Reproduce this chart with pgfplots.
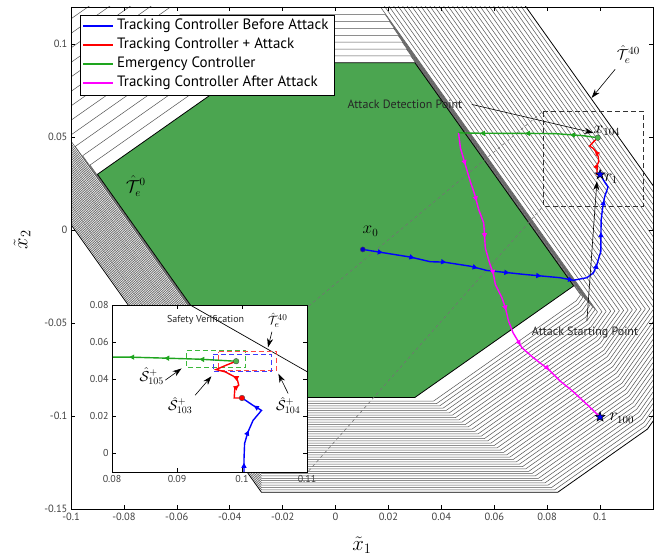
\documentclass[border=0pt]{standalone}
\usepackage{fontspec}
\setmainfont{PT Sans}
\usepackage{pgfplots}
\pgfplotsset{compat=1.18}
\usepackage{pgfplotstable}
\usetikzlibrary{arrows.meta,decorations.markings}

\definecolor{setgreen}{RGB}{75,165,80}
\definecolor{trgreen}{RGB}{30,165,30}
\definecolor{trblue}{RGB}{0,0,255}
\definecolor{trred}{RGB}{255,0,0}
\definecolor{trmag}{RGB}{255,0,255}
\definecolor{dgreen}{RGB}{60,185,60}
\definecolor{dred}{RGB}{255,70,70}
\definecolor{dblue}{RGB}{60,60,255}

% filled five point star
\pgfdeclareplotmark{fstar}{%
  \pgfpathmoveto{\pgfpointpolar{90}{\pgfplotmarksize}}%
  \pgfpathlineto{\pgfpointpolar{126}{0.4\pgfplotmarksize}}%
  \pgfpathlineto{\pgfpointpolar{162}{\pgfplotmarksize}}%
  \pgfpathlineto{\pgfpointpolar{198}{0.4\pgfplotmarksize}}%
  \pgfpathlineto{\pgfpointpolar{234}{\pgfplotmarksize}}%
  \pgfpathlineto{\pgfpointpolar{270}{0.4\pgfplotmarksize}}%
  \pgfpathlineto{\pgfpointpolar{306}{\pgfplotmarksize}}%
  \pgfpathlineto{\pgfpointpolar{342}{0.4\pgfplotmarksize}}%
  \pgfpathlineto{\pgfpointpolar{18}{\pgfplotmarksize}}%
  \pgfpathlineto{\pgfpointpolar{54}{0.4\pgfplotmarksize}}%
  \pgfpathclose
  \pgfusepathqfillstroke
}

% trajectories
\pgfplotstableread{
x y
0.0103 -0.0104
0.0182 -0.0122
0.0283 -0.0145
0.0358 -0.0170
0.0409 -0.0172
0.0509 -0.0194
0.0572 -0.0217
0.0711 -0.0238
0.0849 -0.0256
0.0899 -0.0270
0.0950 -0.0256
0.0975 -0.0230
0.0988 -0.0184
0.1003 -0.0113
0.1003 -0.0038
0.1004 0.0054
0.1009 0.0114
0.1017 0.0178
0.1030 0.0232
0.1017 0.0259
0.1000 0.0299
}\blueTraj

% last part of the blue run, the one the inset shows
\pgfplotstableread{
x y
0.0988 -0.0184
0.1003 -0.0113
0.1003 -0.0038
0.1004 0.0054
0.1009 0.0114
0.1017 0.0178
0.1030 0.0232
0.1017 0.0259
0.1000 0.0299
}\blueTail

\pgfplotstableread{
x y
0.1000 0.0299
0.0988 0.0299
0.0989 0.0350
0.0995 0.0368
0.0993 0.0395
0.0987 0.0416
0.0974 0.0440
0.0960 0.0452
0.0976 0.0476
0.0991 0.0497
}\redTraj

\pgfplotstableread{
x y
0.0991 0.0497
0.0934 0.0508
0.0878 0.0514
0.0828 0.0519
0.0742 0.0520
0.0547 0.0521
0.0465 0.0523
}\greenTraj

\pgfplotstableread{
x y
0.0465 0.0523
0.0472 0.0442
0.0493 0.0340
0.0509 0.0263
0.0526 0.0192
0.0541 0.0111
0.0560 0.0039
0.0563 -0.0023
0.0566 -0.0095
0.0582 -0.0176
0.0597 -0.0238
0.0604 -0.0292
0.0629 -0.0364
0.0642 -0.0418
0.0654 -0.0489
0.0671 -0.0552
0.0705 -0.0633
0.0748 -0.0687
0.0805 -0.0749
0.0849 -0.0812
0.0893 -0.0862
0.0950 -0.0937
0.1000 -0.1005
}\magTraj

\tikzset{
  ahead/.style={-{Stealth[length=9pt,width=6pt]}, black, line width=0.6pt},
}

\begin{document}
\begin{tikzpicture}
\begin{axis}[
  width=582pt, height=502pt, scale only axis,
  xmin=-0.1, xmax=0.12, ymin=-0.15, ymax=0.12,
  xtick={-0.1,-0.08,-0.06,-0.04,-0.02,0,0.02,0.04,0.06,0.08,0.1},
  ytick={-0.15,-0.1,-0.05,0,0.05,0.1},
  scaled ticks=false,
  /pgf/number format/fixed, /pgf/number format/precision=2,
  /pgf/number format/assume math mode=true,
  tick label style={font=\fontsize{10.5}{11}\selectfont, text=black!75},
  axis on top,
  axis line style={line width=0.7pt},
  every tick/.style={black, line width=0.6pt},
  xlabel={$\tilde{x}_1$}, ylabel={$\tilde{x}_2$},
  xlabel style={font=\fontsize{22}{22}\selectfont, at={(axis description cs:0.5,-0.072)}, anchor=center},
  ylabel style={font=\fontsize{22}{22}\selectfont, at={(axis description cs:-0.084,0.536)}, anchor=center},
  sets/.style={forget plot, black!68, line width=0.5pt},
  tri/.style={postaction={decorate}, decoration={markings, mark=#1}},
]
% nested sets T_e^1 ... T_e^39
\addplot[sets] coordinates {(-0.0341,0.0937) (0.0284,0.0937) (0.0926,-0.0348) (0.091,-0.038) (0.037,-0.092) (-0.0293,-0.092) (-0.0928,0.035) (-0.0341,0.0937)};
\addplot[sets] coordinates {(-0.0382,0.0974) (0.0268,0.0974) (0.0935,-0.0361) (0.0917,-0.0398) (0.0382,-0.0933) (-0.0289,-0.0933) (-0.0956,0.04) (-0.0382,0.0974)};
\addplot[sets] coordinates {(-0.0423,0.1011) (0.0252,0.1011) (0.0945,-0.0374) (0.0924,-0.0415) (0.0394,-0.0945) (-0.0286,-0.0945) (-0.0984,0.045) (-0.0423,0.1011)};
\addplot[sets] coordinates {(-0.0464,0.1048) (0.0236,0.1048) (0.0954,-0.0387) (0.0931,-0.0433) (0.0406,-0.0958) (-0.0282,-0.0958) (-0.1011,0.0501) (-0.0464,0.1048)};
\addplot[sets] coordinates {(-0.0505,0.1085) (0.022,0.1085) (0.0963,-0.0401) (0.0938,-0.0451) (0.0418,-0.097) (-0.0282,-0.097) (-0.1042,0.0549) (-0.0505,0.1085)};
\addplot[sets] coordinates {(-0.0546,0.1122) (0.0204,0.1122) (0.0972,-0.0414) (0.0945,-0.0469) (0.043,-0.0983) (-0.0282,-0.0983) (-0.1072,0.0596) (-0.0546,0.1122)};
\addplot[sets] coordinates {(-0.0587,0.1159) (0.0188,0.1159) (0.0981,-0.0427) (0.0951,-0.0486) (0.0442,-0.0995) (-0.0282,-0.0995) (-0.1102,0.0644) (-0.0587,0.1159)};
\addplot[sets] coordinates {(-0.0628,0.1196) (0.0172,0.1196) (0.099,-0.044) (0.0958,-0.0504) (0.0454,-0.1008) (-0.0282,-0.1008) (-0.1132,0.0692) (-0.0628,0.1196)};
\addplot[sets] coordinates {(-0.0602,0.13) (0.0137,0.13) (0.1007,-0.0439) (0.0965,-0.0522) (0.0466,-0.1021) (-0.0282,-0.1021) (-0.1162,0.074) (-0.0602,0.13)};
\addplot[sets] coordinates {(-0.068,0.13) (0.0154,0.13) (0.1023,-0.0437) (0.0972,-0.0539) (0.0478,-0.1033) (-0.0282,-0.1033) (-0.1192,0.0788) (-0.068,0.13)};
\addplot[sets] coordinates {(-0.0758,0.13) (0.0172,0.13) (0.104,-0.0436) (0.0979,-0.0557) (0.049,-0.1046) (-0.0282,-0.1046) (-0.1222,0.0836) (-0.0758,0.13)};
\addplot[sets] coordinates {(-0.0836,0.13) (0.0189,0.13) (0.1056,-0.0435) (0.0986,-0.0575) (0.0502,-0.1058) (-0.0282,-0.1058) (-0.1253,0.0884) (-0.0836,0.13)};
\addplot[sets] coordinates {(-0.0914,0.13) (0.0206,0.13) (0.1073,-0.0433) (0.0993,-0.0592) (0.0515,-0.1071) (-0.0282,-0.1071) (-0.1283,0.0931) (-0.0914,0.13)};
\addplot[sets] coordinates {(-0.2,0.13) (0.0223,0.13) (0.1089,-0.0432) (0.1,-0.061) (0.0527,-0.1083) (-0.0282,-0.1083) (-0.2,0.2354) (-0.2,0.13)};
\addplot[sets] coordinates {(-0.2,0.13) (0.024,0.13) (0.1106,-0.043) (0.1007,-0.0628) (0.0539,-0.1096) (-0.0282,-0.1096) (-0.2,0.2341) (-0.2,0.13)};
\addplot[sets] coordinates {(-0.2,0.13) (0.0258,0.13) (0.1122,-0.0429) (0.1014,-0.0646) (0.0551,-0.1108) (-0.0282,-0.1108) (-0.2,0.2329) (-0.2,0.13)};
\addplot[sets] coordinates {(-0.2,0.13) (0.0275,0.13) (0.1138,-0.0427) (0.102,-0.0663) (0.0563,-0.1121) (-0.0281,-0.1121) (-0.2,0.2316) (-0.2,0.13)};
\addplot[sets] coordinates {(-0.2,0.13) (0.0292,0.13) (0.1155,-0.0426) (0.1027,-0.0681) (0.0575,-0.1134) (-0.0281,-0.1134) (-0.2,0.2304) (-0.2,0.13)};
\addplot[sets] coordinates {(-0.2,0.13) (0.0309,0.13) (0.1171,-0.0424) (0.1034,-0.0699) (0.0587,-0.1146) (-0.0281,-0.1146) (-0.2,0.2291) (-0.2,0.13)};
\addplot[sets] coordinates {(-0.2,0.13) (0.0326,0.13) (0.1188,-0.0423) (0.1041,-0.0716) (0.0599,-0.1159) (-0.0281,-0.1159) (-0.2,0.2279) (-0.2,0.13)};
\addplot[sets] coordinates {(-0.2,0.13) (0.0344,0.13) (0.1204,-0.0421) (0.1048,-0.0734) (0.0611,-0.1171) (-0.0281,-0.1171) (-0.2,0.2267) (-0.2,0.13)};
\addplot[sets] coordinates {(-0.2,0.13) (0.0361,0.13) (0.1221,-0.042) (0.1055,-0.0752) (0.0623,-0.1184) (-0.0281,-0.1184) (-0.2,0.2254) (-0.2,0.13)};
\addplot[sets] coordinates {(-0.2,0.13) (0.0378,0.13) (0.1237,-0.0419) (0.1062,-0.0769) (0.0635,-0.1196) (-0.0281,-0.1196) (-0.2,0.2242) (-0.2,0.13)};
\addplot[sets] coordinates {(-0.2,0.13) (0.0395,0.13) (0.1254,-0.0417) (0.1069,-0.0787) (0.0647,-0.1209) (-0.0281,-0.1209) (-0.2,0.2229) (-0.2,0.13)};
\addplot[sets] coordinates {(-0.2,0.13) (0.0412,0.13) (0.127,-0.0416) (0.1076,-0.0805) (0.0659,-0.1221) (-0.0281,-0.1221) (-0.2,0.2217) (-0.2,0.13)};
\addplot[sets] coordinates {(-0.2,0.13) (0.043,0.13) (0.1287,-0.0414) (0.1083,-0.0823) (0.0671,-0.1234) (-0.0281,-0.1234) (-0.2,0.2204) (-0.2,0.13)};
\addplot[sets] coordinates {(-0.2,0.13) (0.0447,0.13) (0.1303,-0.0413) (0.1089,-0.084) (0.0683,-0.1247) (-0.0281,-0.1247) (-0.2,0.2192) (-0.2,0.13)};
\addplot[sets] coordinates {(-0.2,0.13) (0.0464,0.13) (0.132,-0.0411) (0.1096,-0.0858) (0.0695,-0.1259) (-0.0281,-0.1259) (-0.2,0.2179) (-0.2,0.13)};
\addplot[sets] coordinates {(-0.2,0.13) (0.0481,0.13) (0.1336,-0.041) (0.1103,-0.0876) (0.0707,-0.1272) (-0.0281,-0.1272) (-0.2,0.2167) (-0.2,0.13)};
\addplot[sets] coordinates {(-0.2,0.13) (0.0498,0.13) (0.1353,-0.0408) (0.111,-0.0893) (0.0719,-0.1284) (-0.0281,-0.1284) (-0.2,0.2155) (-0.2,0.13)};
\addplot[sets] coordinates {(-0.2,0.13) (0.0516,0.13) (0.1369,-0.0407) (0.1117,-0.0911) (0.0731,-0.1297) (-0.0281,-0.1297) (-0.2,0.2142) (-0.2,0.13)};
\addplot[sets] coordinates {(-0.2,0.13) (0.0533,0.13) (0.1386,-0.0406) (0.1124,-0.0929) (0.0743,-0.1309) (-0.028,-0.1309) (-0.2,0.213) (-0.2,0.13)};
\addplot[sets] coordinates {(-0.2,0.13) (0.055,0.13) (0.1402,-0.0404) (0.1131,-0.0946) (0.0755,-0.1322) (-0.028,-0.1322) (-0.2,0.2117) (-0.2,0.13)};
\addplot[sets] coordinates {(-0.2,0.13) (0.0567,0.13) (0.1419,-0.0403) (0.1138,-0.0964) (0.0767,-0.1335) (-0.028,-0.1335) (-0.2,0.2105) (-0.2,0.13)};
\addplot[sets] coordinates {(-0.2,0.13) (0.0584,0.13) (0.1435,-0.0401) (0.1145,-0.0982) (0.0779,-0.1347) (-0.028,-0.1347) (-0.2,0.2092) (-0.2,0.13)};
\addplot[sets] coordinates {(-0.2,0.13) (0.0602,0.13) (0.1451,-0.04) (0.1152,-0.1) (0.0791,-0.136) (-0.028,-0.136) (-0.2,0.208) (-0.2,0.13)};
\addplot[sets] coordinates {(-0.2,0.13) (0.0619,0.13) (0.1468,-0.0398) (0.1158,-0.1017) (0.0803,-0.1372) (-0.028,-0.1372) (-0.2,0.2068) (-0.2,0.13)};
\addplot[sets] coordinates {(-0.2,0.13) (0.0636,0.13) (0.1484,-0.0397) (0.1165,-0.1035) (0.0816,-0.1385) (-0.028,-0.1385) (-0.2,0.2055) (-0.2,0.13)};
\addplot[sets] coordinates {(-0.2,0.13) (0.0653,0.13) (0.1501,-0.0395) (0.1172,-0.1053) (0.0828,-0.1397) (-0.028,-0.1397) (-0.2,0.2043) (-0.2,0.13)};
% outer set T_e^40
\addplot[forget plot, black, line width=0.8pt] coordinates {(-0.2,0.13) (0.067,0.13) (0.1517,-0.0394) (0.1179,-0.107) (0.084,-0.141) (-0.028,-0.141) (-0.2,0.203) (-0.2,0.13)};
% terminal set T_e^0
\addplot[forget plot, fill=setgreen, draw=black, line width=0.8pt] coordinates {(-0.09,0.03) (-0.03,0.09) (0.03,0.09) (0.09,-0.03) (0.03,-0.09) (-0.03,-0.09) (-0.09,0.03)} -- cycle;

% zoom box and connectors
\addplot[forget plot, black!55, dashed, line width=0.6pt] coordinates {(-0.0102,-0.0409) (0.0785,0.064)};
\addplot[forget plot, black!55, dashed, line width=0.6pt] coordinates {(-0.0102,-0.1296) (0.0785,0.0129)};
\addplot[forget plot, black!80, dash pattern=on 5pt off 3pt, line width=0.8pt] coordinates {(0.0785,0.064) (0.1162,0.064) (0.1162,0.0129) (0.0785,0.0129) (0.0785,0.064)};

% trajectories with direction marks
\addplot[forget plot, trblue, line width=1.4pt,
  tri={between positions 0.06 and 0.97 step 0.095 with {\arrow{Triangle[length=5pt,width=5pt]}}}] table {\blueTraj};
\addplot[forget plot, trred, line width=1.4pt,
  tri={between positions 0.3 and 0.6 step 0.3 with {\arrow{Triangle[length=5pt,width=5pt]}}}] table {\redTraj};
\addplot[forget plot, trgreen, line width=1.4pt,
  tri={between positions 28pt and 125pt step 45pt with {\arrow{Triangle[length=5pt,width=5pt]}}}] table {\greenTraj};
\addplot[forget plot, trmag, line width=1.4pt,
  tri={between positions 0.1 and 0.9 step 0.115 with {\arrow{Triangle[length=5pt,width=5pt]}}}] table {\magTraj};

% points
\addplot[forget plot, only marks, mark=*, mark size=2.6pt, mark options={fill=trblue!80!black, draw=black!70}] coordinates {(0.0103,-0.0104)};
\addplot[forget plot, only marks, mark=*, mark size=2.8pt, mark options={fill=trgreen!80, draw=black!70}] coordinates {(0.0991,0.0497)};
\addplot[forget plot, only marks, mark=fstar, mark size=5pt, mark options={fill=trblue, draw=black, line width=0.6pt}] coordinates {(0.1,0.0299) (0.1,-0.1005)};

% annotations
\node[font=\fontsize{16}{16}\selectfont] at (axis cs:0.0132,-0.0005) {$x_0$};
\node[font=\fontsize{16}{16}\selectfont, anchor=west, inner sep=0pt] at (axis cs:0.0975,0.0535) {$x_{104}$};
\node[font=\fontsize{16}{16}\selectfont, anchor=west, inner sep=0pt] at (axis cs:0.1015,0.0275) {$r_1$};
\node[font=\fontsize{16}{16}\selectfont, anchor=west, inner sep=0pt] at (axis cs:0.1035,-0.1012) {$r_{100}$};
\node[font=\fontsize{16}{16}\selectfont] at (axis cs:-0.0755,0.0237) {$\hat{\mathcal{T}}_e^{0}$};
\node[font=\fontsize{15}{15}\selectfont] at (axis cs:0.1107,0.0945) {$\hat{\mathcal{T}}_e^{40}$};
\draw[ahead] (axis cs:0.1057,0.0865) -- (axis cs:0.0968,0.0711);
\node[font=\fontsize{12}{12}\selectfont, text=black!85] at (axis cs:0.0262,0.0679) {Attack Detection Point};
\draw[ahead] (axis cs:0.0515,0.0676) -- (axis cs:0.0975,0.0523);
\node[font=\fontsize{12}{12}\selectfont, text=black!85] at (axis cs:0.0943,-0.0552) {Attack Starting Point};
\draw[ahead] (axis cs:0.095,-0.0490) -- (axis cs:0.0988,0.0263);
\end{axis}

% legend, set after the main axis (axis box runs from (0,0) to (582pt,502pt))
\fill[white] (9pt,414pt) rectangle (263pt,494pt);
\draw[black, line width=0.7pt] (9pt,414pt) rectangle (263pt,494pt);
\fill[trblue]  (12pt,482.3pt) rectangle (42pt,483.7pt);
\fill[trred]   (12pt,463.3pt) rectangle (42pt,464.7pt);
\fill[trgreen] (12pt,444.3pt) rectangle (42pt,445.7pt);
\fill[trmag]   (12pt,425.3pt) rectangle (42pt,426.7pt);
\node[anchor=west, font=\fontsize{15}{16}\selectfont, inner sep=0pt] at (46pt,483pt) {Tracking Controller Before Attack};
\node[anchor=west, font=\fontsize{15}{16}\selectfont, inner sep=0pt] at (46pt,464pt) {Tracking Controller + Attack};
\node[anchor=west, font=\fontsize{15}{16}\selectfont, inner sep=0pt] at (46pt,445pt) {Emergency Controller};
\node[anchor=west, font=\fontsize{15}{16}\selectfont, inner sep=0pt] at (46pt,426pt) {Tracking Controller After Attack};

% inset
\begin{axis}[
  at={(41pt,37pt)}, anchor=south west,
  width=195pt, height=167pt, scale only axis,
  xmin=0.08, xmax=0.11, ymin=-0.01, ymax=0.08,
  xtick={0.08,0.09,0.1,0.11}, ytick={0,0.02,0.04,0.06,0.08},
  scaled ticks=false,
  /pgf/number format/fixed, /pgf/number format/precision=2,
  /pgf/number format/assume math mode=true,
  tick label style={font=\fontsize{10}{10}\selectfont, text=black!75},
  axis background/.style={fill=white},
  axis on top,
  axis line style={line width=0.7pt},
  every tick/.style={black, line width=0.6pt},
  tri/.style={postaction={decorate}, decoration={markings, mark=#1}},
]
\addplot[black, line width=0.7pt] coordinates {(0.08,0.10408) (0.12,0.02408)};
\addplot[dgreen, dash pattern=on 5pt off 3pt, line width=0.9pt] coordinates {(0.0915,0.0557) (0.1005,0.0557) (0.1005,0.0463) (0.0915,0.0463) (0.0915,0.0557)};
\addplot[dred, dash pattern=on 5pt off 3pt, line width=0.9pt] coordinates {(0.0964,0.0548) (0.1053,0.0548) (0.1053,0.0449) (0.0964,0.0449) (0.0964,0.0548)};
\addplot[dblue, dash pattern=on 5pt off 3pt, line width=0.9pt] coordinates {(0.0956,0.0533) (0.1046,0.0533) (0.1046,0.0443) (0.0956,0.0443) (0.0956,0.0533)};
\addplot[trgreen, line width=1.4pt,
  tri={between positions 37pt and 110pt step 35pt with {\arrow{Triangle[length=5pt,width=5pt]}}}] table {\greenTraj};
\addplot[trblue, line width=1.4pt,
  tri={between positions 28pt and 100pt step 33pt with {\arrow{Triangle[length=5pt,width=5pt]}}}] table {\blueTail};
\addplot[trred, line width=1.4pt,
  tri={between positions 0.3 and 0.5 step 0.15 with {\arrow{Triangle[length=5pt,width=5pt]}}}] table {\redTraj};
\addplot[only marks, mark=*, mark size=2.8pt, mark options={fill=trred, draw=black!70}] coordinates {(0.1,0.0299)};
\addplot[only marks, mark=*, mark size=2.8pt, mark options={fill=trgreen!80, draw=black!70}] coordinates {(0.0991,0.0497)};

\node[font=\fontsize{10}{10}\selectfont, text=black!85] at (axis cs:0.0944,0.0717) {Safety Verification};
\node[font=\fontsize{13}{13}\selectfont] at (axis cs:0.1055,0.0715) {$\hat{\mathcal{T}}_e^{40}$};
\draw[ahead] (axis cs:0.1046,0.0656) -- (axis cs:0.1040,0.0572);
\node[font=\fontsize{14}{14}\selectfont] at (axis cs:0.0861,0.0416) {$\hat{\mathcal{S}}^{+}_{105}$};
\draw[ahead] (axis cs:0.0882,0.0395) -- (axis cs:0.0907,0.0458);
\node[font=\fontsize{14}{14}\selectfont] at (axis cs:0.0905,0.0259) {$\hat{\mathcal{S}}^{+}_{103}$};
\draw[ahead] (axis cs:0.0928,0.0314) -- (axis cs:0.0953,0.0416);
\node[font=\fontsize{14}{14}\selectfont] at (axis cs:0.1071,0.0259) {$\hat{\mathcal{S}}^{+}_{104}$};
\draw[ahead] (axis cs:0.1071,0.0323) -- (axis cs:0.1056,0.0430);
\end{axis}

\pgfresetboundingbox
\path[use as bounding box] (-71pt,-48pt) rectangle (599pt,509pt);
\end{tikzpicture}
\end{document}
